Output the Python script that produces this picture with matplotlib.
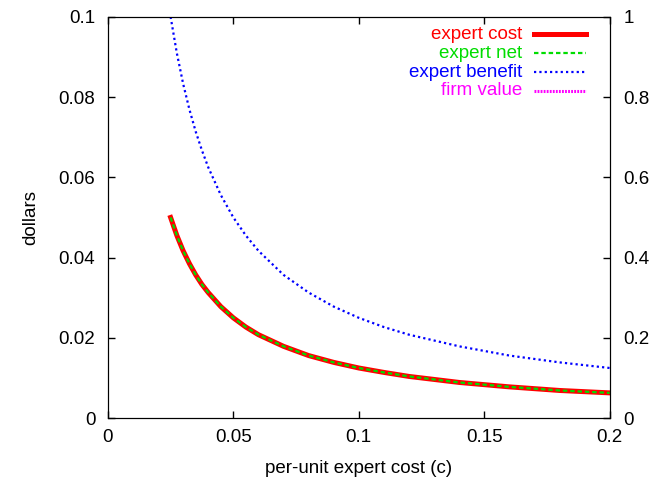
"""Coûts et bénéfices de l'expert en fonction du coût unitaire c."""

import matplotlib

matplotlib.use("Agg")
import matplotlib.pyplot as plt

plt.rcParams["font.family"] = ["Liberation Sans", "DejaVu Sans"]
plt.rcParams["font.size"] = 13.5

# coût unitaire de l'expert
unit_cost = [0.025, 0.0275, 0.03, 0.0325, 0.035, 0.0375, 0.04, 0.045, 0.05,
             0.055, 0.06, 0.07, 0.08, 0.09, 0.1, 0.11, 0.12, 0.14, 0.16,
             0.18, 0.2]
expert_cost = [0.05, 0.0455, 0.0417, 0.0385, 0.0357, 0.0333, 0.0313, 0.0278,
               0.025, 0.0227, 0.0208, 0.0179, 0.0156, 0.0139, 0.0125, 0.0114,
               0.0104, 0.0089, 0.0078, 0.0069, 0.0063]
expert_net = [0.05, 0.0455, 0.0417, 0.0385, 0.0357, 0.0333, 0.0313, 0.0278,
              0.025, 0.0227, 0.0208, 0.0179, 0.0156, 0.0139, 0.0125, 0.0114,
              0.0104, 0.0089, 0.0078, 0.0069, 0.0063]
expert_benefit = [0.1, 0.0909, 0.0833, 0.0769, 0.0714, 0.0667, 0.0625, 0.0556,
                  0.05, 0.0455, 0.0417, 0.0357, 0.0313, 0.0278, 0.025, 0.0227,
                  0.0208, 0.0179, 0.0156, 0.0139, 0.0125]
firm_value = [0.05, 0.0455, 0.0417, 0.0385, 0.0357, 0.0333, 0.0313, 0.0278,
              0.025, 0.0227, 0.0208, 0.0179, 0.0156, 0.0139, 0.0125, 0.0114,
              0.0104, 0.0089, 0.0078, 0.0069, 0.0063]

x_ticks = [0, 0.05, 0.1, 0.15, 0.2]
x_labels = ["0", "0.05", "0.1", "0.15", "0.2"]
y_ticks = [0, 0.02, 0.04, 0.06, 0.08, 0.1]
y_labels = ["0", "0.02", "0.04", "0.06", "0.08", "0.1"]
y2_ticks = [0, 0.2, 0.4, 0.6, 0.8, 1]
y2_labels = ["0", "0.2", "0.4", "0.6", "0.8", "1"]

styles = {
    "expert cost": dict(color="#ff0000", lw=3.6, linestyle="-"),
    "expert net": dict(color="#00dd00", lw=1.6, linestyle=(0, (2, 1.3))),
    "expert benefit": dict(color="#0000ff", lw=1.6, linestyle=(0, (1, 1.4))),
    "firm value": dict(color="#ff00ff", lw=2.2, linestyle=(0, (0.6, 0.4))),
}

fig = plt.figure(figsize=(6.7, 4.79), dpi=100)
ax = fig.add_axes([0.161, 0.127, 0.749, 0.838])

ax.plot(unit_cost, firm_value, zorder=1, **styles["firm value"])
ax.plot(unit_cost, expert_cost, zorder=2, **styles["expert cost"])
ax.plot(unit_cost, expert_net, zorder=3, **styles["expert net"])
ax.plot(unit_cost, expert_benefit, zorder=3, **styles["expert benefit"])

ax.set_xlim(0, 0.2)
ax.set_ylim(0, 0.1)
ax.set_xticks(x_ticks, x_labels)
ax.set_yticks(y_ticks, y_labels)
ax.tick_params(direction="in", length=5, width=1, top=True)
ax.tick_params(axis="y", pad=9)
ax.tick_params(axis="x", pad=8)
ax.set_xlabel("per-unit expert cost (c)", labelpad=10)
ax.set_ylabel("dollars", labelpad=14)

ax2 = ax.twinx()
ax2.set_ylim(0, 1)
ax2.set_yticks(y2_ticks, y2_labels)
ax2.tick_params(direction="in", length=5, width=1, pad=10)

# légende à la gnuplot : texte aligné à droite, échantillon à sa droite
row_y = [0.957, 0.909, 0.862, 0.816]
for y, (name, st) in zip(row_y, styles.items()):
    ax.text(0.825, y, name, transform=ax.transAxes, ha="right", va="center",
            color=st["color"])
    ax.plot([0.849, 0.952], [y, y], transform=ax.transAxes, clip_on=False,
            **st)

fig.savefig("out.png", dpi=100)
